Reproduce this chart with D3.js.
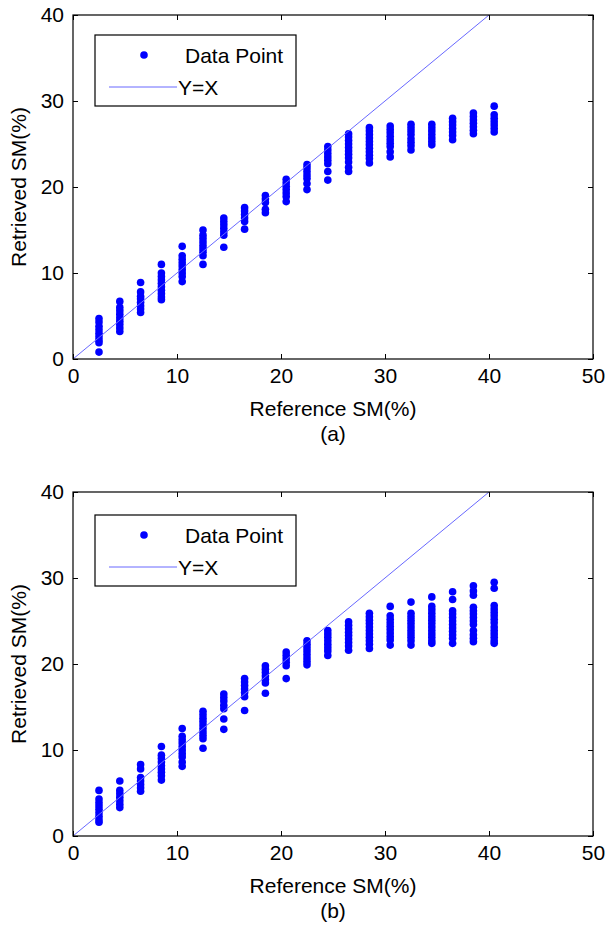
<!DOCTYPE html>
<html>
<head>
<meta charset="utf-8">
<script src="https://cdn.jsdelivr.net/npm/d3@7"></script>
<style>
html,body{margin:0;padding:0;background:#fff;}
svg text{font-family:"Liberation Sans", Arial, Helvetica, sans-serif;fill:#000;}
</style>
</head>
<body>
<div id="chart"></div>
<script>
// ---- data ----
const refSM = [2.5,4.5,6.5,8.5,10.5,12.5,14.5,16.5,18.5,20.5,22.5,24.5,26.5,28.5,30.5,32.5,34.5,36.5,38.5,40.5];

const retrievedA = [
  [4.7,4.3,3.8,3.4,3.0,2.6,2.2,1.9,0.8],
  [6.7,6.0,5.6,5.2,4.8,4.4,4.0,3.6,3.2],
  [8.9,7.8,7.3,7.0,6.6,6.2,5.8,5.4],
  [11.0,10.0,9.6,9.2,8.8,8.4,8.0,7.6,7.2,6.9],
  [13.1,12.0,11.6,11.2,10.8,10.4,10.0,9.6,9.0],
  [15.0,14.4,14.0,13.6,13.2,12.8,12.4,12.0,11.0],
  [16.4,16.0,15.6,15.2,14.8,14.4,13.0],
  [17.6,17.2,16.8,16.4,16.0,15.1],
  [19.0,18.6,18.2,17.4,17.0],
  [20.9,20.5,20.1,19.7,19.3,18.9,18.3],
  [22.6,22.2,21.8,21.4,21.0,20.4,19.7],
  [24.7,24.3,23.9,23.5,23.1,22.7,21.8,20.8],
  [26.2,25.8,25.4,25.0,24.6,24.2,23.8,23.4,22.9,22.3,21.8],
  [26.9,26.5,26.1,25.7,25.3,24.9,24.5,24.1,23.7,23.3,22.8],
  [27.1,26.7,26.3,25.9,25.5,25.1,24.7,24.1,23.5],
  [27.3,26.9,26.5,26.1,25.6,25.2,24.8,24.3],
  [27.3,26.9,26.5,26.1,25.7,25.3,24.9],
  [28.0,27.6,27.2,26.8,26.4,26.0,25.5],
  [28.6,28.2,27.8,27.4,27.0,26.6,26.2],
  [29.4,28.4,28.0,27.6,27.2,26.8,26.4]
];

const retrievedB = [
  [5.3,4.3,3.9,3.5,3.1,2.7,2.3,1.9,1.6],
  [6.4,5.3,4.9,4.5,4.1,3.7,3.3],
  [8.3,7.8,6.8,6.4,6.0,5.6,5.2],
  [10.4,9.4,9.0,8.6,8.2,7.8,7.4,7.0,6.5],
  [12.5,11.6,11.2,10.8,10.4,10.0,9.6,9.2,8.6,8.1],
  [14.5,14.1,13.7,13.3,12.9,12.5,12.1,11.7,11.3,10.2],
  [16.5,16.1,15.7,15.2,14.8,13.6,12.4],
  [18.3,17.9,17.5,17.1,16.7,16.2,14.6],
  [19.8,19.4,19.0,18.6,18.2,17.8,16.6],
  [21.4,21.0,20.6,20.2,19.8,18.3],
  [22.7,22.3,21.9,21.5,21.1,20.7,20.3,19.9],
  [23.9,23.5,23.1,22.7,22.3,21.9,21.5,21.0],
  [24.9,24.5,24.1,23.7,23.3,22.9,22.5,22.1,21.6],
  [25.9,25.5,25.1,24.7,24.3,23.9,23.5,23.1,22.7,22.3,21.8],
  [26.7,25.6,25.2,24.8,24.4,24.0,23.6,23.2,22.8,22.2],
  [27.2,25.9,25.5,25.1,24.7,24.3,23.9,23.5,23.1,22.7,22.2],
  [27.8,26.7,26.3,25.9,25.5,25.1,24.7,24.3,23.9,23.5,23.1,22.7,22.4],
  [28.4,27.5,26.2,25.8,25.4,25.0,24.6,24.2,23.8,23.4,23.0,22.4],
  [29.1,28.5,28.0,26.6,26.2,25.8,25.4,25.0,24.6,23.9,23.4,23.0,22.6],
  [29.5,28.8,26.8,26.4,26.0,25.6,25.2,24.8,24.3,23.9,23.5,23.1,22.7,22.4]
];

const lineXY = [0, 40];
const xTicks = [0,10,20,30,40,50];
const yTicks = [0,10,20,30,40];
const xDomain = [0,50];
const yDomain = [0,40];
const legendLabels = ["Data Point","Y=X"];
const xLabel = "Reference SM(%)";
const yLabel = "Retrieved SM(%)";
const captions = ["(a)","(b)"];

// ---- drawing ----
const W = 606, H = 925;
const svg = d3.select("#chart").append("svg").attr("width", W).attr("height", H);
const FONT = 21;

const panels = [
  {data: retrievedA, top: 15, bottom: 359, cap: captions[0], legTop: 20},
  {data: retrievedB, top: 492, bottom: 836, cap: captions[1], legTop: 23}
];
const left = 73, right = 593;

panels.forEach((p, pi) => {
  const x = d3.scaleLinear().domain(xDomain).range([left, right]);
  const y = d3.scaleLinear().domain(yDomain).range([p.bottom, p.top]);
  const g = svg.append("g");

  const clipId = "clip" + pi;
  svg.append("clipPath").attr("id", clipId).append("rect")
    .attr("x", left).attr("y", p.top).attr("width", right-left).attr("height", p.bottom-p.top);

  // points
  const pts = [];
  p.data.forEach((col, i) => col.forEach(v => pts.push([refSM[i], v])));
  g.append("g").attr("clip-path", `url(#${clipId})`).selectAll("circle").data(pts).enter().append("circle")
    .attr("cx", d => x(d[0])).attr("cy", d => y(d[1])).attr("r", 3.8).attr("fill", "#0000ff");

  // y=x line
  g.append("path").attr("clip-path", `url(#${clipId})`)
    .datum(lineXY.map(v => [v, v]))
    .attr("d", d3.line().x(d => x(d[0])).y(d => y(d[1])))
    .attr("fill","none").attr("stroke","#6868ff").attr("stroke-width",1);

  // axes
  const tickLen = 5;
  const ax = (gen) => gen.tickSizeInner(-tickLen).tickSizeOuter(0).tickPadding(8);
  const xb = g.append("g").attr("transform", `translate(0,${p.bottom})`).call(ax(d3.axisBottom(x).tickValues(xTicks).tickFormat(d3.format("d"))));
  const xt = g.append("g").attr("transform", `translate(0,${p.top})`).call(d3.axisTop(x).tickValues(xTicks).tickSizeInner(-tickLen).tickSizeOuter(0).tickFormat(""));
  const yl = g.append("g").attr("transform", `translate(${left},0)`).call(ax(d3.axisLeft(y).tickValues(yTicks).tickFormat(d3.format("d"))));
  const yr = g.append("g").attr("transform", `translate(${right},0)`).call(d3.axisRight(y).tickValues(yTicks).tickSizeInner(-tickLen).tickSizeOuter(0).tickFormat(""));
  [xb, xt, yl, yr].forEach(a => {
    a.select(".domain").remove();
    a.selectAll("line").attr("stroke", "#000");
    a.selectAll("text").attr("font-size", FONT).attr("font-family", '"Liberation Sans", Arial, sans-serif').attr("fill","#000");
  });
  yl.selectAll("text").attr("dx", "-1");
  xb.selectAll("text").attr("dy", "0.75em");

  // box
  g.append("rect").attr("x", left).attr("y", p.top).attr("width", right-left).attr("height", p.bottom-p.top)
    .attr("fill","none").attr("stroke","#000").attr("stroke-width",1.2);

  // labels
  g.append("text").attr("x", (left+right)/2).attr("y", p.bottom + 57).attr("text-anchor","middle")
    .attr("font-size", FONT).text(xLabel);
  g.append("text").attr("transform", `translate(26,${(p.top+p.bottom)/2}) rotate(-90)`).attr("text-anchor","middle")
    .attr("font-size", FONT).text(yLabel);
  g.append("text").attr("x", (left+right)/2).attr("y", p.bottom + 82).attr("text-anchor","middle")
    .attr("font-size", FONT).text(p.cap);

  // legend
  const lx = 95, ly = p.top + p.legTop, lw = 201, lh = 71;
  const lg = g.append("g");
  lg.append("rect").attr("x", lx).attr("y", ly).attr("width", lw).attr("height", lh)
    .attr("fill","#fff").attr("stroke","#000").attr("stroke-width",1.2);
  lg.append("circle").attr("cx", lx + 49).attr("cy", ly + 20).attr("r", 3.8).attr("fill","#0000ff");
  lg.append("text").attr("x", lx + 90).attr("y", ly + 28).attr("font-size", FONT).text(legendLabels[0]);
  lg.append("line").attr("x1", lx + 14).attr("x2", lx + 82).attr("y1", ly + 52).attr("y2", ly + 52)
    .attr("stroke","#6868ff").attr("stroke-width",1);
  lg.append("text").attr("x", lx + 83).attr("y", ly + 60).attr("font-size", FONT).text(legendLabels[1]);
});
</script>
</body>
</html>
